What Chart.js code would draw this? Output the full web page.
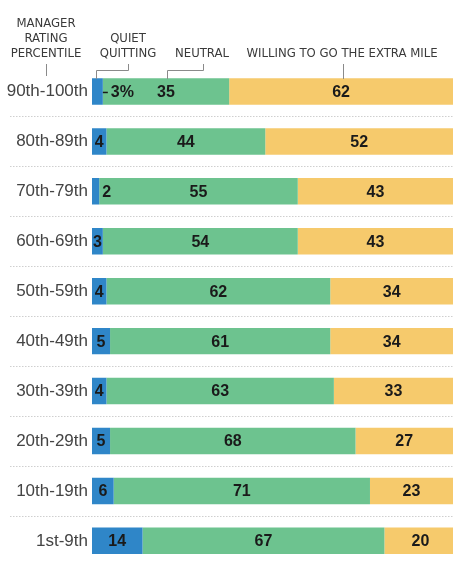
<!DOCTYPE html>
<html>
<head>
<meta charset="utf-8">
<script src="https://cdn.jsdelivr.net/npm/chart.js@4"></script>
<style>
  html, body { margin: 0; padding: 0; background: #fff; overflow: hidden; }
  canvas { display: block; }
</style>
</head>
<body>
<canvas id="myChartManager" width="453" height="580"></canvas>
<script>
var percentiles = ["90th-100th", "80th-89th", "70th-79th", "60th-69th", "50th-59th",
  "40th-49th", "30th-39th", "20th-29th", "10th-19th", "1st-9th"];
var quietQuitting = [3, 4, 2, 3, 4, 5, 4, 5, 6, 14];
var neutral = [35, 44, 55, 54, 62, 61, 63, 68, 71, 67];
var extraMile = [62, 52, 43, 43, 34, 34, 33, 27, 23, 20];

var headFont = "13px 'Liberation Sans Narrow', 'DejaVu Sans Condensed', sans-serif";
var numFont = "bold 16px 'Liberation Sans', Arial, sans-serif";

// dotted lines between the rows
var separadores = {
  id: "separadores",
  beforeDatasetsDraw: function (chart) {
    var ctx = chart.ctx;
    var y = chart.scales.y;
    ctx.save();
    ctx.strokeStyle = "#cfcfcf";
    ctx.lineWidth = 1;
    ctx.setLineDash([1.5, 1.5]);
    for (var i = 0; i < percentiles.length - 1; i++) {
      var py = Math.round((y.getPixelForValue(i) + y.getPixelForValue(i + 1)) / 2) + 0.5;
      ctx.beginPath();
      ctx.moveTo(10, py);
      ctx.lineTo(chart.width, py);
      ctx.stroke();
    }
    ctx.restore();
  }
};

// column heads and their leader lines
var encabezado = {
  id: "encabezado",
  afterDraw: function (chart) {
    var ctx = chart.ctx;
    ctx.save();
    ctx.fillStyle = "#3a3a3a";
    ctx.font = headFont;
    ctx.textAlign = "center";
    ctx.textBaseline = "middle";
    ctx.fillText("MANAGER", 46, 24);
    ctx.fillText("RATING", 46, 39);
    ctx.fillText("PERCENTILE", 46, 54);
    ctx.fillText("QUIET", 128, 39);
    ctx.fillText("QUITTING", 128, 54);
    ctx.fillText("NEUTRAL", 202, 54);
    ctx.fillText("WILLING TO GO THE EXTRA MILE", 342, 54);

    ctx.strokeStyle = "#8a8a8a";
    ctx.lineWidth = 1;
    ctx.beginPath();
    ctx.moveTo(46.5, 64); ctx.lineTo(46.5, 76);
    ctx.moveTo(128.5, 64); ctx.lineTo(128.5, 70.5); ctx.lineTo(96.5, 70.5); ctx.lineTo(96.5, 79);
    ctx.moveTo(203.5, 64); ctx.lineTo(203.5, 70.5); ctx.lineTo(167.5, 70.5); ctx.lineTo(167.5, 79);
    ctx.moveTo(343.5, 64); ctx.lineTo(343.5, 79);
    ctx.stroke();
    ctx.restore();
  }
};

// numbers inside the bars
var etiquetas = {
  id: "etiquetas",
  afterDatasetsDraw: function (chart) {
    var ctx = chart.ctx;
    ctx.save();
    ctx.font = numFont;
    ctx.fillStyle = "#1a1a1a";
    ctx.textBaseline = "middle";
    chart.data.datasets.forEach(function (ds, d) {
      chart.getDatasetMeta(d).data.forEach(function (bar, i) {
        var v = ds.data[i];
        var left = Math.min(bar.x, bar.base);
        var right = Math.max(bar.x, bar.base);
        var yy = bar.y + 1;
        if (d === 0 && i === 0) {
          ctx.strokeStyle = "#1a1a1a";
          ctx.lineWidth = 1.5;
          ctx.beginPath();
          ctx.moveTo(right, yy);
          ctx.lineTo(right + 5, yy);
          ctx.stroke();
          ctx.textAlign = "left";
          ctx.fillText(v + "%", right + 8, yy);
        } else if (d === 0 && v < 3) {
          ctx.textAlign = "left";
          ctx.fillText(String(v), right + 3, yy);
        } else {
          ctx.textAlign = "center";
          ctx.fillText(String(v), (left + right) / 2, yy);
        }
      });
    });
    ctx.restore();
  }
};

const ctxManager = document.getElementById("myChartManager").getContext("2d");

const myChartManager = new Chart(ctxManager, {
  type: "bar",
  data: {
    labels: percentiles,
    datasets: [
      { label: "Quiet quitting", data: quietQuitting, backgroundColor: "#2f86c8" },
      { label: "Neutral", data: neutral, backgroundColor: "#6dc38f" },
      { label: "Willing to go the extra mile", data: extraMile, backgroundColor: "#f6ca6c" }
    ]
  },
  options: {
    indexAxis: "y",
    responsive: false,
    animation: false,
    layout: { padding: { top: 66.5, bottom: 3.5, left: 0, right: 0 } },
    datasets: {
      bar: { categoryPercentage: 1, barPercentage: 0.53, borderWidth: 0 }
    },
    scales: {
      x: { stacked: true, display: false, min: 0, max: 100 },
      y: {
        stacked: true,
        grid: { display: false, drawTicks: false },
        border: { display: false },
        ticks: {
          color: "#444",
          padding: 4,
          font: { family: "'Liberation Sans', Arial, sans-serif", size: 17 }
        },
        afterFit: function (scale) { scale.width = 92; }
      }
    },
    plugins: {
      legend: { display: false },
      tooltip: { enabled: false }
    }
  },
  plugins: [separadores, encabezado, etiquetas]
});
</script>
</body>
</html>
